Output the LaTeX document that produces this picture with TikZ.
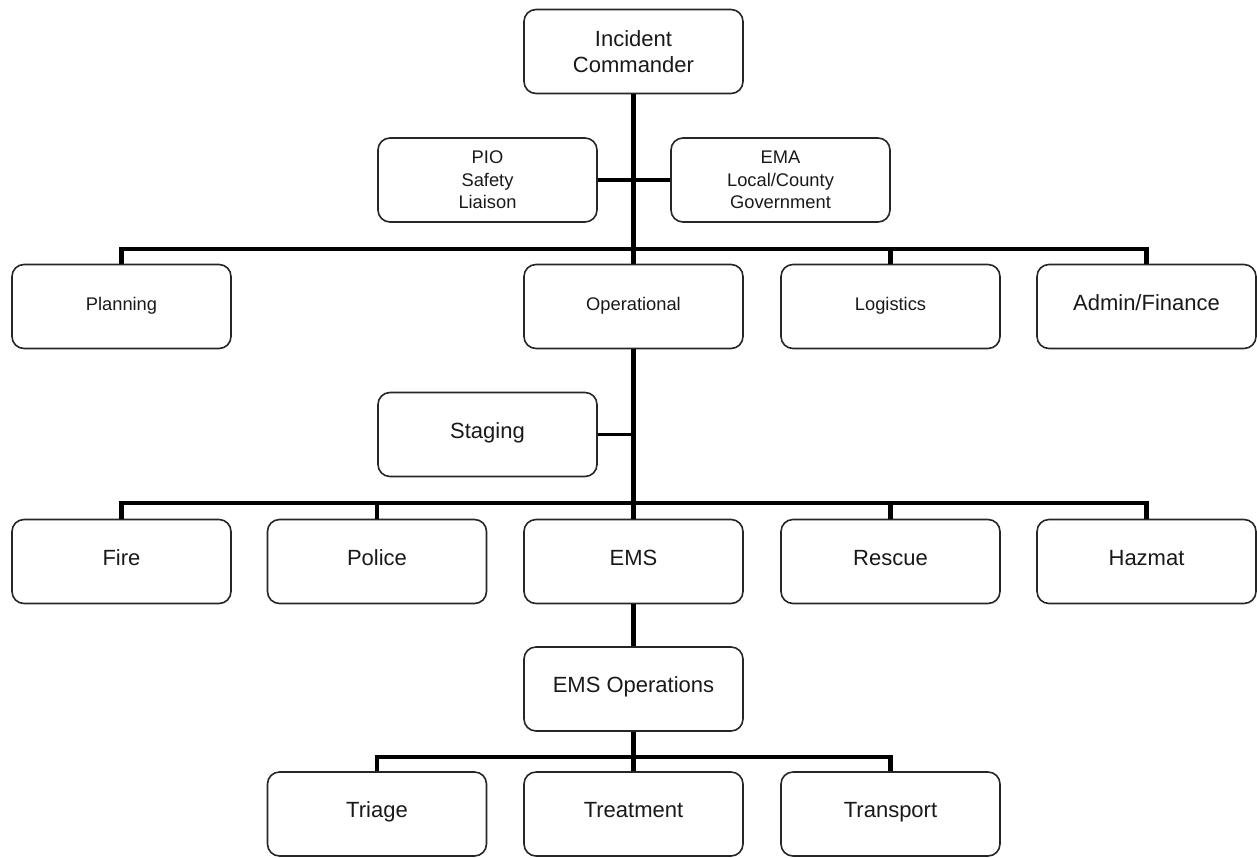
\documentclass[tikz,border=0pt]{standalone}
\usepackage{fontspec}
\setmainfont{Liberation Sans}
\begin{document}
\begin{tikzpicture}[x=1pt,y=-1pt,
  unit/.style={draw=black!85, line width=1.6pt, rounded corners=12pt,
    minimum width=219pt, minimum height=84pt, inner sep=2pt,
    align=center, text=black!90, font=\fontsize{22}{26}\selectfont},
  oneline/.style={unit, text height=0.72em, text depth=0pt},
  small/.style={font=\fontsize{18.3}{22.5}\selectfont},
  conn/.style={line width=4.2pt, black},
  thin/.style={line width=3.2pt, black}]
\useasboundingbox (0,0) rectangle (1257,857);

% command level
\node[unit] (ic) at (633.5,51.5) {Incident\\Commander};
\node[unit,small] (pio) at (487.5,180) {PIO\\Safety\\Liaison};
\node[unit,small] (ema) at (780.5,180) {EMA\\Local/County\\Government};

% sections
\node[oneline,small] (plan) at (121.5,306.5) {Planning};
\node[oneline,small] (op)   at (633.5,306.5) {Operational};
\node[oneline,small] (logi) at (890.5,306.5) {Logistics};
\node[oneline]       (adm)  at (1146.5,306.5) {Admin/Finance};

\node[oneline] (stg) at (487.5,434.5) {Staging};

% operational branches
\node[oneline] (fire)   at (121.5,561.5) {Fire};
\node[oneline] (police) at (377,561.5) {Police};
\node[oneline] (ems)    at (633.5,561.5) {EMS};
\node[oneline] (resc)   at (890.5,561.5) {Rescue};
\node[oneline] (haz)    at (1146.5,561.5) {Hazmat};

\node[oneline] (emsop) at (633.5,689) {EMS Operations};

\node[oneline] (tri)   at (377,814) {Triage};
\node[oneline] (treat) at (633.5,814) {Treatment};
\node[oneline] (trans) at (890.5,814) {Transport};

% bus bars
\coordinate (b1) at (633.5,249);
\coordinate (b2) at (633.5,503);
\coordinate (b3) at (633.5,757);

% connectors
\draw[conn] (ic.south) -- (op.north);
\draw[conn] (pio.east) -- (ema.west);
\draw[conn] (plan.north) |- (adm.north |- b1) -- (adm.north);
\draw[conn] (logi.north) -- (logi.north |- b1);

\draw[conn] (op.south) -- (ems.north);
\draw[thin] (stg.east) -- (stg.east -| op.south);
\draw[conn] (fire.north) |- (haz.north |- b2) -- (haz.north);
\draw[conn] (police.north) -- (police.north |- b2);
\draw[conn] (resc.north) -- (resc.north |- b2);

\draw[conn] (ems.south) -- (emsop.north);
\draw[conn] (emsop.south) -- (treat.north);
\draw[conn] (tri.north) |- (trans.north |- b3) -- (trans.north);
\end{tikzpicture}
\end{document}
